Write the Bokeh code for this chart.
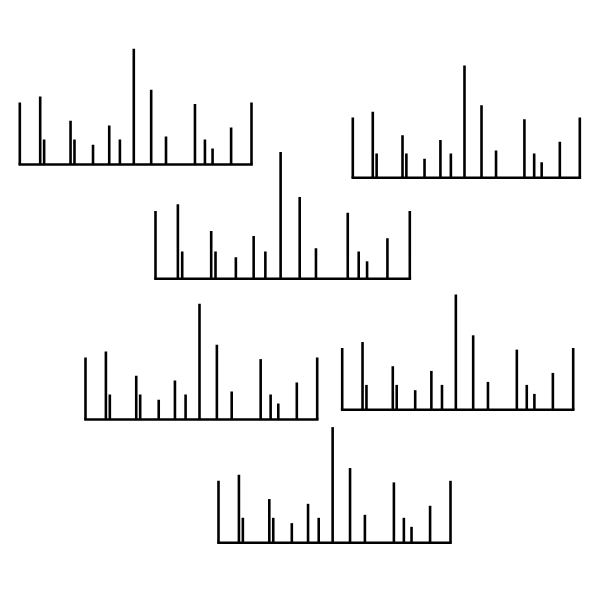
import numpy as np
from bokeh.plotting import figure
from bokeh.models import Range1d, ColumnDataSource
from bokeh.embed import file_html
from bokeh.resources import INLINE

# Peak positions (percent of span) and relative intensities (percent of max)
peak_positions = [0, 8.8, 10.5, 21.9, 23.6, 31.6, 38.6, 43.2, 49.2,
                  56.7, 63.1, 75.6, 79.9, 83.2, 91.2, 100]
peak_intensities = [53.6, 58.8, 21.6, 37.8, 21.6, 17.0, 33.7, 21.6, 100,
                    64.6, 24.2, 52.2, 21.6, 13.8, 32.0, 53.6]

# Placement of each copy of the spectrum: left, right, baseline, full height (page px)
group_left = [19.3, 352.3, 155.0, 85.0, 341.7, 218.0]
group_right = [251.0, 579.3, 409.3, 316.7, 572.7, 450.0]
group_base = [164.0, 177.3, 278.3, 419.0, 409.3, 542.3]
group_height = [115.7, 112.3, 126.7, 115.7, 115.3, 115.7]

p = figure(width=584, height=584, output_backend="svg", toolbar_location=None,
           x_range=Range1d(0, 584), y_range=Range1d(584, 0), min_border=0)
p.axis.visible = False
p.grid.visible = False
p.outline_line_color = None
p.background_fill_color = "white"

pos = np.array(peak_positions) / 100.0
inten = np.array(peak_intensities) / 100.0

for x0, x1, yb, h in zip(group_left, group_right, group_base, group_height):
    xs = x0 + pos * (x1 - x0)
    src = ColumnDataSource(dict(x=xs, y0=np.full_like(xs, yb), y1=yb - inten * h))
    p.segment(x0="x", y0="y0", x1="x", y1="y1", source=src,
              line_color="black", line_width=2.6)
    p.segment(x0=[x0 - 1.3], y0=[yb], x1=[x1 + 1.3], y1=[yb],
              line_color="black", line_width=2.6)

open("out.html", "w").write(file_html(p, INLINE))
